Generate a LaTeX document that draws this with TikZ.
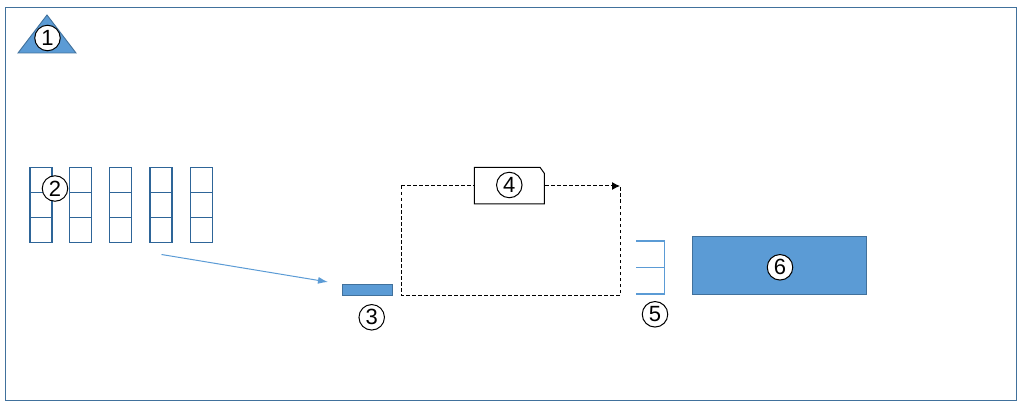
\documentclass[tikz,border=0pt]{standalone}
\usepackage{fontspec}
\setmainfont{Liberation Sans}
\usetikzlibrary{arrows.meta}
\definecolor{fillblue}{HTML}{5B9BD5}
\definecolor{edgeblue}{HTML}{41719C}
\definecolor{gridblue}{HTML}{2E6598}
\tikzset{
  num/.style={circle,draw=black,fill=white,line width=1pt,minimum size=25.5pt,inner sep=0pt,font=\fontsize{22}{22}\selectfont},
  cell/.style={draw=gridblue,line width=1.1pt},
  conn/.style={draw=black,line width=1pt,dash pattern=on 3.5pt off 2.5pt}
}
\begin{document}
\begin{tikzpicture}[x=1pt,y=-1pt]
\useasboundingbox (0,0) rectangle (1022,406);
% frame
\draw[edgeblue,line width=1pt] (5,8) rectangle (1016,400);
% triangle 1
\draw[fill=fillblue,draw=edgeblue,line width=0.9pt] (47,15) -- (76,53) -- (18,53) -- cycle;
\node[num] (n1) at (47.5,38) {1};
% columns
\foreach \x [count=\i] in {30,69.5,109.5,150,190.5}{
  \draw[cell] (\x,167.3) rectangle (\x+22,242.3);
  \draw[cell] (\x,192.3) -- (\x+22,192.3);
  \draw[cell] (\x,217.3) -- (\x+22,217.3);
}
\node[num] (n2) at (55,188.5) {2};
% bar 3
\node[draw=edgeblue,fill=fillblue,line width=0.9pt,minimum width=50pt,minimum height=11pt,inner sep=0pt] (bar) at (367.3,289.8) {};
\node[num] (n3) at (371.7,317.3) {3};
\coordinate (a0) at (161.5,254.5);
\coordinate (a1) at (328,282);
\draw[fillblue,line width=1pt,-{Latex[length=10pt,width=7pt]}] (a0) -- (a1);
% dashed loop
\coordinate (c1) at (401,295);
\coordinate (c2) at (401,186);
\coordinate (c3) at (620,186);
\coordinate (c4) at (620,295);
\draw[conn] (c2) -- (c1) -- (c4) -- (c3);
\draw[conn,-{Latex[length=8pt,width=8pt]}] (c2) -- (c3);
% document 4
\draw[fill=white,draw=black,line width=1pt] (474.3,167.3) -- (540,167.3) -- (544.3,173.3) -- (544.3,204) -- (474.3,204) -- cycle;
\node[num] (n4) at (509.3,185) {4};
% bracket 5
\draw[fillblue,line width=1.5pt] (636,241) -- (664.3,241) -- (664.3,294) -- (636,294);
\draw[fillblue,line width=1.5pt] (636,267.7) -- (664.3,267.7);
\node[num] (n5) at (655,314.3) {5};
% box 6
\node[draw=edgeblue,fill=fillblue,line width=0.9pt,minimum width=174.4pt,minimum height=58.3pt,inner sep=0pt] (b6) at (779.5,265.2) {};
\node[num] (n6) at (780,267.3) {6};
\end{tikzpicture}
\end{document}
